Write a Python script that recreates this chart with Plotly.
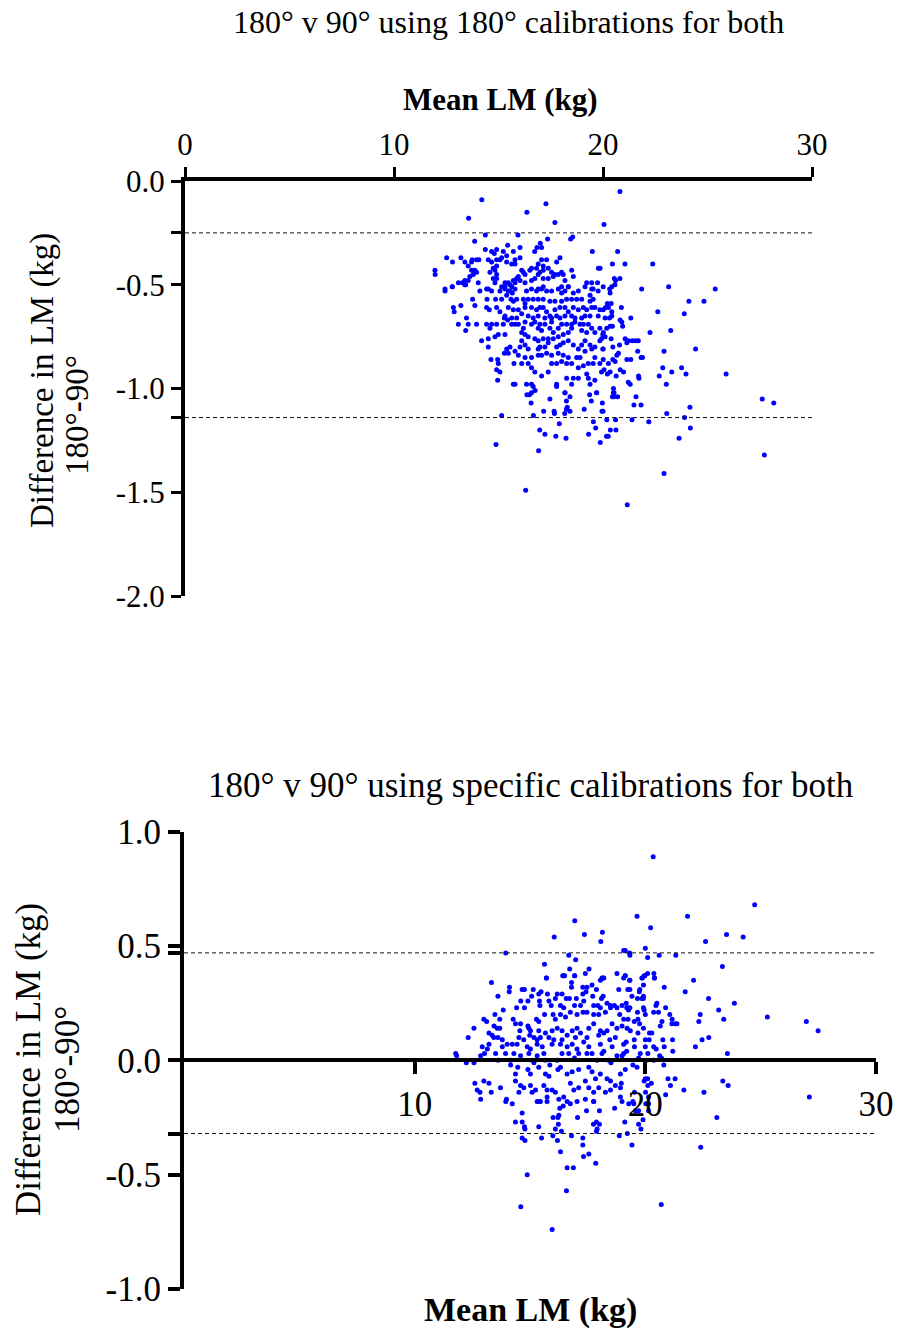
import plotly.graph_objects as go

# ---------------- data: top panel (180 deg calibrations for both) ----------------
top_upper = [(14.20,-0.09),(13.57,-0.18),(16.36,-0.15),(17.27,-0.11),(17.70,-0.20),(20.05,-0.21),
 (14.37,-0.26),(15.93,-0.26),(13.86,-0.29),(17.35,-0.28),(18.45,-0.28),(18.55,-0.27),(14.37,-0.33),
 (16.73,-0.34),(16.84,-0.32),(17.00,-0.30),(17.06,-0.32),(19.49,-0.34),(19.78,-0.42),(20.81,-0.05),
 (20.70,-0.34),(20.45,-0.40),(21.05,-0.40),(22.38,-0.40),(20.54,-0.47),(20.60,-0.48),(20.81,-0.47),
 (20.57,-0.50),(19.86,-0.42)]
top_mid_upper = [(12.52,-0.37),(12.80,-0.39),(13.20,-0.37),(13.39,-0.39),(13.55,-0.41),(13.71,-0.39),
 (13.74,-0.38),(13.95,-0.38),(14.06,-0.38),(13.71,-0.43),(13.87,-0.43),(13.95,-0.44),(13.63,-0.46),
 (13.79,-0.45),(13.55,-0.48),(13.39,-0.48),(13.08,-0.49),(13.27,-0.49),(13.39,-0.50),(12.79,-0.51),
 (12.44,-0.52),(11.96,-0.43),(11.97,-0.45),(14.03,-0.49),(14.51,-0.38),(14.67,-0.39),(14.91,-0.38),
 (14.91,-0.41),(14.75,-0.42),(14.83,-0.43),(14.59,-0.44),(14.91,-0.45),(14.75,-0.47),(14.91,-0.47),
 (14.83,-0.49),(14.51,-0.52),(15.07,-0.38),(15.15,-0.37),(15.23,-0.34),(14.91,-0.33),(14.80,-0.35),
 (14.67,-0.34),(15.44,-0.31),(16.03,-0.32),(15.71,-0.34),(15.39,-0.36),(15.39,-0.39),(15.79,-0.38),
 (15.63,-0.40),(15.79,-0.40),(16.03,-0.37),(16.19,-0.44),(16.11,-0.43),(16.27,-0.45),(15.87,-0.47),
 (15.71,-0.48),(15.79,-0.49),(15.95,-0.46),(16.03,-0.48),(15.47,-0.49),(15.31,-0.49),(15.55,-0.50),
 (15.63,-0.51),(15.31,-0.52),(15.15,-0.51),(15.47,-0.53),(16.27,-0.49),(16.58,-0.48),(16.74,-0.47),
 (16.50,-0.43),(16.58,-0.42),(16.82,-0.42),(16.90,-0.40),(16.98,-0.44),(17.14,-0.43),(17.14,-0.41),
 (17.38,-0.42),(17.30,-0.38),(17.06,-0.38),(16.90,-0.45),(17.14,-0.47),(16.90,-0.52),(17.14,-0.51),
 (17.38,-0.47),(17.62,-0.46),(17.54,-0.44),(17.70,-0.45),(17.86,-0.45),(17.78,-0.39),(17.94,-0.37),
 (18.02,-0.44),(18.10,-0.45),(18.18,-0.48),(18.02,-0.51),(18.34,-0.51),(18.58,-0.46),(18.50,-0.43),
 (19.46,-0.49),(19.53,-0.52),(19.22,-0.49),(19.74,-0.49),(20.01,-0.51)]
top_core_a = [(12.44,-0.53),(12.79,-0.51),(13.43,-0.50),(13.76,-0.57),(14.11,-0.53),(14.43,-0.52),
 (14.67,-0.53),(14.45,-0.57),(14.86,-0.57),(15.15,-0.57),(15.07,-0.53),(15.31,-0.51),(15.55,-0.53),
 (15.79,-0.52),(15.66,-0.54),(15.39,-0.55),(15.60,-0.57),(15.87,-0.57),(15.71,-0.58),(16.19,-0.57),
 (16.34,-0.53),(16.58,-0.52),(16.82,-0.53),(17.06,-0.52),(17.30,-0.53),(17.54,-0.53),(17.86,-0.52),
 (18.02,-0.54),(18.18,-0.53),(18.34,-0.51),(18.58,-0.54),(18.82,-0.53),(19.14,-0.51),(19.46,-0.52),
 (19.38,-0.55),(19.77,-0.53),(19.53,-0.57),(19.38,-0.58),(18.98,-0.57),(18.74,-0.57),(18.50,-0.57),
 (18.26,-0.57),(18.02,-0.58),(17.70,-0.58),(17.46,-0.58),(17.14,-0.57),(16.90,-0.57),(16.66,-0.57),
 (16.42,-0.57),(16.27,-0.59),
 (12.84,-0.61),(13.20,-0.60),(12.88,-0.63),(13.87,-0.60),(14.43,-0.61),(14.56,-0.62),(14.91,-0.61),
 (15.07,-0.63),(15.31,-0.65),(15.28,-0.66),(15.47,-0.61),(15.71,-0.62),(15.95,-0.62),(16.27,-0.61),
 (16.11,-0.64),(15.87,-0.66),(15.63,-0.66),(16.58,-0.61),(16.82,-0.62),(16.98,-0.61),(17.14,-0.61),
 (16.90,-0.65),(16.66,-0.66),(16.42,-0.65),(16.27,-0.68),(17.30,-0.63),(17.46,-0.65),(17.70,-0.62),
 (17.94,-0.61),(18.18,-0.61),(18.34,-0.63),(18.58,-0.61),(18.82,-0.62),(19.06,-0.61),(19.22,-0.62),
 (19.46,-0.61),(19.61,-0.61),(19.85,-0.62),(20.01,-0.62),(19.77,-0.65),(19.38,-0.65),(19.14,-0.65),
 (18.98,-0.66),(18.66,-0.66),(18.50,-0.65),(18.18,-0.65),(17.94,-0.66),(17.78,-0.65),(17.54,-0.66),
 (17.22,-0.66)]
top_core_b = [(13.47,-0.66),(13.08,-0.69),(13.55,-0.69),(13.43,-0.72),(13.95,-0.69),(14.43,-0.69),
 (14.67,-0.69),(14.59,-0.71),(14.91,-0.69),(15.23,-0.69),(15.44,-0.67),(15.63,-0.69),(15.95,-0.69),
 (16.19,-0.71),(16.11,-0.73),(15.79,-0.69),(16.58,-0.69),(16.74,-0.68),(16.98,-0.69),(16.90,-0.71),
 (17.06,-0.72),(17.22,-0.69),(17.54,-0.68),(17.46,-0.71),(17.62,-0.73),(17.86,-0.71),(18.02,-0.69),
 (18.26,-0.69),(18.50,-0.69),(18.66,-0.68),(18.90,-0.69),(19.06,-0.69),(19.30,-0.69),(19.46,-0.71),
 (19.61,-0.73),(19.85,-0.71),(19.22,-0.73),(18.98,-0.72),(18.50,-0.71),(18.34,-0.73),(18.10,-0.74),
 (17.86,-0.75),(17.62,-0.76),(17.38,-0.76),(17.14,-0.76),(16.90,-0.77),(16.74,-0.76),(16.42,-0.75),
 (16.27,-0.74),
 (14.19,-0.77),(14.51,-0.76),(14.83,-0.75),(14.99,-0.74),(15.31,-0.74),(16.11,-0.77),(16.27,-0.79),
 (16.03,-0.80),(16.42,-0.81),(16.98,-0.80),(16.90,-0.81),(17.22,-0.80),(17.38,-0.78),(17.78,-0.80),
 (17.94,-0.79),(18.10,-0.78),(18.34,-0.77),(18.58,-0.79),(18.82,-0.81),(18.98,-0.79),(19.14,-0.77),
 (19.38,-0.79),(19.61,-0.80),(19.85,-0.77),(19.93,-0.76)]
top_core_c = [(14.51,-0.80),(15.55,-0.80),(15.39,-0.81),(15.79,-0.82),(15.95,-0.84),(16.27,-0.85),
 (16.58,-0.85),(16.90,-0.84),(17.06,-0.84),(17.30,-0.83),(17.54,-0.84),(17.86,-0.83),(18.10,-0.84),
 (18.34,-0.85),(18.74,-0.85),(18.90,-0.85),(19.14,-0.82),(19.46,-0.81),(19.61,-0.85),(20.01,-0.81),
 (14.64,-0.86),(14.96,-0.86),(14.99,-0.88),(15.28,-0.83),(15.47,-0.83),(15.74,-0.88),(16.11,-0.88),
 (16.42,-0.88),(16.58,-0.90),(16.74,-0.92),(17.06,-0.94),(17.38,-0.92),(17.54,-0.88),(17.78,-0.88),
 (18.02,-0.87),(18.26,-0.88),(18.50,-0.88),(18.82,-0.90),(19.06,-0.89),(19.30,-0.88),(19.53,-0.88),
 (19.85,-0.88),(20.01,-0.86),
 (14.91,-0.91),(15.07,-0.92),(14.96,-0.96),(15.71,-0.98),(15.79,-0.98),(16.34,-0.98),(16.58,-0.98),
 (16.66,-0.99),(16.58,-1.02),(17.78,-0.98),(17.78,-0.99),(18.18,-1.02),(18.50,-0.98),(18.58,-0.95),
 (19.22,-0.93),(19.30,-0.95),(19.38,-0.98),(19.69,-1.02),(19.93,-0.92),(18.26,-0.95),(18.82,-0.95),
 (19.61,-0.96)]
top_right = [(20.32,-0.52),(20.42,-0.51),(20.34,-0.54),(20.21,-0.59),(20.39,-0.59),(20.12,-0.61),
 (20.26,-0.61),(20.42,-0.63),(20.42,-0.65),(20.10,-0.66),(20.31,-0.66),(20.90,-0.68),(20.94,-0.70),
 (20.82,-0.67),(21.33,-0.66),(20.18,-0.71),(20.02,-0.73),(19.99,-0.74),(20.34,-0.70),(20.45,-0.70),
 (21.06,-0.76),(21.22,-0.77),(21.41,-0.77),(21.57,-0.77),(21.69,-0.77),(21.14,-0.78),(20.39,-0.76),
 (20.10,-0.75),(19.99,-0.81),(20.47,-0.80),(20.79,-0.79),(21.66,-0.82),(20.66,-0.84),(20.74,-0.83),
 (21.82,-0.85),(21.89,-0.85),(21.14,-0.86),(21.33,-0.86),(20.47,-0.86),(20.58,-0.87),(20.26,-0.88),
 (20.05,-0.91),(20.21,-0.93),(20.34,-0.92),(20.82,-0.91),(20.98,-0.92),(20.63,-0.94),
 (21.85,-0.52),(23.14,-0.51),(25.37,-0.52),(24.11,-0.58),(24.83,-0.58),(22.62,-0.63),(23.89,-0.64),
 (20.88,-0.61),(22.25,-0.73),(23.24,-0.72),(24.43,-0.81),(22.92,-0.82),(22.86,-0.90),(23.76,-0.90),
 (23.29,-0.92),(23.97,-0.93),(25.89,-0.93),(22.69,-0.94),(23.03,-0.98),(21.70,-0.94),(21.72,-0.95),
 (21.21,-0.97),(21.30,-0.98),(20.50,-1.00),(20.53,-1.02)]
top_lower = [(15.15,-1.13),(14.88,-1.27),(16.30,-1.49),(16.92,-1.30),(16.97,-1.20),(17.22,-1.22),
 (17.74,-1.23),(18.23,-1.24),(17.91,-1.17),(16.67,-1.13),(16.56,-1.07),(17.16,-1.11),(17.66,-1.11),
 (17.68,-1.12),(17.46,-1.05),(18.17,-1.12),(18.29,-1.09),(18.25,-1.10),(18.42,-1.11),(18.25,-1.06),
 (18.42,-1.04),(18.18,-1.02),(16.36,-1.03),(16.48,-1.03),(16.75,-1.01),(19.10,-1.10),(19.31,-1.22),
 (19.65,-1.19),(19.54,-1.16),(19.87,-1.26),(20.17,-1.23),(20.25,-1.23),(20.35,-1.20),(20.62,-1.20),
 (20.18,-1.15),(20.60,-1.15),(19.95,-1.11),(20.00,-1.11),(19.97,-1.07),(19.44,-1.06),(19.36,-1.03),
 (19.70,-1.02),(20.50,-1.02),(20.52,-1.04),(20.70,-1.04),(20.45,-1.04),(21.16,-1.56),(21.39,-1.15),
 (21.48,-1.08),(21.58,-1.04),(21.82,-1.08),(22.19,-1.16),(23.05,-1.12),(22.92,-1.41),(23.64,-1.24),
 (23.90,-1.14),(24.18,-1.19),(24.16,-1.09),(27.62,-1.05),(28.17,-1.07),(27.72,-1.32)]

# ---------------- data: bottom panel (specific calibrations for both) ----------------
bot_upper = [(16.94,0.61),(16.05,0.54),(17.36,0.55),(18.14,0.56),(18.07,0.52),(13.95,0.47),
 (16.68,0.46),(16.98,0.44),(19.06,0.48),(19.32,0.47),(15.63,0.42),(16.72,0.40),(16.42,0.37),
 (16.50,0.37),(16.94,0.37),(17.40,0.38),(17.56,0.40),(15.71,0.36),(18.17,0.36),(18.05,0.35),
 (18.77,0.38),(19.13,0.37),
 (20.34,0.89),(19.64,0.63),(21.83,0.63),(20.23,0.58),(24.74,0.68),(23.52,0.55),(24.24,0.54),
 (22.61,0.52),(20.00,0.49),(19.33,0.46),(20.10,0.45),(20.60,0.46),(21.32,0.46),(23.34,0.41),
 (19.13,0.48),(19.13,0.37),(19.33,0.35),(19.87,0.36),(19.98,0.37),(20.10,0.38),(20.37,0.38),
 (20.39,0.36),(22.09,0.35)]
bot_right = [(20.82,0.32),(21.73,0.30),(22.74,0.27),(23.86,0.25),(23.18,0.22),(22.38,0.20),
 (22.32,0.17),(23.40,0.18),(25.29,0.19),(26.98,0.17),(27.49,0.13),(22.75,0.10),(22.46,0.09),
 (22.17,0.06),(23.56,0.03),(21.19,0.04),(21.18,0.09),(20.82,0.06),(20.80,-0.02),(23.36,-0.09),
 (23.59,-0.11),(21.29,-0.08),(20.98,-0.08),(21.09,-0.11),(21.67,-0.13),(22.54,-0.14),(20.88,-0.15),
 (27.11,-0.16),
 (19.32,0.35),(19.85,0.36),(19.95,0.37),(20.40,0.36),(19.33,0.31),(19.74,0.30),(19.76,0.31),
 (19.92,0.33),(19.42,0.28),(19.66,0.27),(19.85,0.27),(19.92,0.28),(19.91,0.27),(19.17,0.25),
 (20.50,0.25),(20.46,0.24),(20.88,0.23),(19.20,0.23),(19.27,0.22),(19.33,0.23),(19.66,0.21),
 (19.92,0.23),(19.95,0.22),(20.00,0.20),(20.36,0.21),(20.57,0.21),(21.06,0.20),(19.25,0.18),
 (19.52,0.17),(19.68,0.18),(19.75,0.16),(20.72,0.17),(20.65,0.15),(21.16,0.18),(21.15,0.16),
 (21.29,0.16),(21.37,0.16),(19.92,0.14),(19.35,0.13),(19.68,0.12),(20.18,0.12),(20.28,0.12),
 (19.17,0.08),(19.52,0.09),(20.00,0.09),(20.17,0.09),(20.76,0.09),(19.53,0.06),(20.00,0.06),
 (20.36,0.06),(20.47,0.05),(19.19,0.04),(19.78,0.03),(20.11,0.03),(20.62,0.02),(20.70,0.01),
 (19.71,0.01),(20.04,0.00),(20.36,0.00),(19.46,-0.02),(19.64,-0.03),(19.13,-0.04),(20.00,-0.08),
 (19.95,-0.09),(20.10,-0.08),(20.26,-0.10),(20.11,-0.11),(19.53,-0.14),(20.01,-0.14),(20.14,-0.16),
 (19.46,-0.18),(20.02,-0.19)]
bot_core_top = [(13.33,0.34),(14.11,0.32),(15.71,0.36),(16.46,0.37),(16.93,0.37),(18.12,0.36),
 (18.20,0.36),(19.06,0.36),(13.61,0.28),(14.10,0.30),(14.66,0.31),(14.76,0.31),(15.14,0.31),
 (15.38,0.29),(15.48,0.30),(15.76,0.29),(16.18,0.29),(16.39,0.29),(16.80,0.32),(16.80,0.34),
 (17.29,0.32),(17.47,0.32),(17.69,0.33),(17.88,0.31),(17.29,0.29),(17.43,0.30),(17.72,0.28),
 (18.10,0.27),(18.17,0.28),(18.85,0.31),(19.24,0.31),(14.60,0.26),(14.91,0.26),(15.07,0.28),
 (15.41,0.26),(15.82,0.26),(16.10,0.27),(16.57,0.27),(16.71,0.27),(17.01,0.27),(17.33,0.26),
 (17.76,0.24),(17.94,0.24),(18.05,0.23),(18.34,0.25),(18.49,0.24),(18.77,0.23),(18.99,0.24),
 (19.21,0.23),(14.42,0.23),(14.76,0.23),(13.84,0.22),(15.43,0.24),(15.92,0.24),(16.32,0.24),
 (16.46,0.23),(16.93,0.24),(17.19,0.24)]
bot_core_mid = [(13.00,0.18),(13.12,0.17),(12.57,0.14),(12.32,0.10),(13.48,0.20),(13.69,0.18),
 (13.44,0.15),(13.58,0.14),(13.69,0.14),(13.22,0.12),(13.36,0.11),(13.43,0.10),(13.61,0.10),
 (13.80,0.09),(14.27,0.18),(14.37,0.16),(14.59,0.16),(14.95,0.14),(15.28,0.18),(15.38,0.17),
 (15.63,0.20),(16.00,0.20),(16.10,0.18),(16.32,0.20),(16.54,0.19),(16.75,0.21),(17.04,0.20),
 (17.30,0.21),(17.47,0.21),(17.76,0.20),(17.98,0.20),(18.27,0.21),(18.49,0.23),(18.66,0.24),
 (18.89,0.20),(19.06,0.18),(14.56,0.13),(14.91,0.15),(15.02,0.13),(14.99,0.11),(15.38,0.13),
 (15.45,0.10),(15.67,0.12),(15.96,0.13),(16.18,0.14),(16.39,0.13),(16.61,0.11),(16.83,0.13),
 (17.04,0.14),(17.19,0.12),(17.55,0.14),(17.76,0.16),(18.05,0.13),(18.20,0.12),(18.34,0.13),
 (18.56,0.16),(18.77,0.14),(18.99,0.15),(19.21,0.14),(18.70,0.10),(17.98,0.11),(14.52,0.10),
 (14.73,0.09),(15.17,0.10),(15.31,0.09),(15.82,0.10),(16.03,0.09),(16.39,0.09),(16.97,0.10),
 (17.47,0.10),(18.46,0.09)]
bot_core_zero = [(12.93,0.06),(13.22,0.07),(13.15,0.05),(13.80,0.06),(14.01,0.07),(14.23,0.07),
 (14.44,0.07),(14.88,0.06),(15.02,0.05),(15.31,0.07),(15.53,0.06),(15.96,0.07),(16.32,0.07),
 (16.61,0.06),(16.83,0.07),(17.04,0.05),(17.33,0.08),(17.55,0.06),(18.05,0.07),(18.20,0.04),
 (18.56,0.06),(19.06,0.07),(11.78,0.03),(11.82,0.02),(12.24,-0.01),(12.57,-0.01),(12.86,0.02),
 (13.03,0.03),(13.51,0.03),(13.62,0.00),(13.94,0.03),(14.16,0.00),(14.30,0.03),(14.59,0.02),
 (14.95,0.03),(15.09,0.00),(15.31,0.02),(15.60,0.03),(15.67,0.00),(15.86,-0.02),(16.18,0.00),
 (16.39,0.03),(16.68,0.03),(16.93,0.01),(17.11,0.03),(17.47,0.03),(17.69,0.03),(17.91,0.00),
 (18.12,0.03),(18.41,0.00),(18.77,0.02),(18.99,0.02),(18.51,-0.01),(19.06,0.03)]
bot_core_low = [(14.16,-0.02),(14.47,-0.03),(14.37,-0.06),(14.91,-0.04),(15.02,-0.06),(15.17,-0.01),
 (15.38,-0.03),(15.67,-0.06),(15.82,-0.07),(16.21,-0.04),(16.32,-0.03),(16.61,-0.06),(16.83,-0.05),
 (17.11,-0.04),(17.55,-0.03),(17.69,-0.05),(18.05,-0.06),(17.84,-0.08),(18.34,-0.08),(18.49,-0.09),
 (18.92,-0.06),(18.96,-0.10),(12.61,-0.10),(13.00,-0.09),(13.22,-0.10),(12.71,-0.13),(12.83,-0.14),
 (13.32,-0.14),(13.72,-0.12),(13.98,-0.17),(14.37,-0.09),(14.59,-0.11),(14.73,-0.12),(14.52,-0.14),
 (15.02,-0.11),(15.24,-0.13),(15.09,-0.14),(15.60,-0.11),(15.74,-0.13),(15.96,-0.13),(16.10,-0.14),
 (15.74,-0.16),(16.25,-0.17),(16.46,-0.16),(16.75,-0.10),(16.90,-0.13),(17.11,-0.12),(17.40,-0.09),
 (17.55,-0.12),(17.76,-0.14),(17.98,-0.12),(18.27,-0.14),(18.49,-0.13),(18.70,-0.11),(18.92,-0.12),
 (15.31,-0.18),(15.45,-0.18),(16.61,-0.18),(17.40,-0.17),(17.76,-0.18),(18.92,-0.16)]
bot_lower = [(12.86,-0.17),(13.95,-0.18),(14.23,-0.19),(14.66,-0.23),(14.66,-0.27),(14.37,-0.27),
 (14.76,-0.29),(14.78,-0.30),(14.66,-0.34),(14.78,-0.35),(14.88,-0.50),(14.60,-0.64),(15.96,-0.74),
 (15.38,-0.29),(15.50,-0.34),(15.41,-0.18),(15.74,-0.18),(16.00,-0.25),(16.21,-0.25),(16.25,-0.24),
 (16.29,-0.21),(16.44,-0.20),(16.23,-0.28),(16.10,-0.30),(16.36,-0.31),(15.99,-0.33),(16.19,-0.35),
 (16.32,-0.40),(16.75,-0.19),(17.04,-0.18),(17.06,-0.25),(16.80,-0.33),(17.29,-0.34),(17.29,-0.37),
 (17.32,-0.42),(17.55,-0.41),(16.61,-0.47),(16.88,-0.47),(16.58,-0.57),(17.85,-0.45),(17.45,-0.22),
 (17.76,-0.18),(18.01,-0.22),(17.75,-0.28),(17.88,-0.27),(18.01,-0.28),(17.91,-0.30),(17.88,-0.31),
 (18.67,-0.21),(18.99,-0.18),(19.28,-0.19),(19.50,-0.19),(19.11,-0.27),(19.57,-0.22),(19.71,-0.22),
 (19.71,-0.28),(19.81,-0.30),(19.90,-0.26),(20.14,-0.22),(20.14,-0.19),(18.87,-0.33),(19.22,-0.32),
 (19.42,-0.37),(20.69,-0.63),(22.40,-0.38),(23.10,-0.25)]

top_limits = [-0.25, -1.14]
bot_limits = [0.47, -0.32]
x_ticks_top = [0, 10, 20, 30]
x_ticks_bot = [10, 20, 30]
y_ticks_top = [0.0, -0.5, -1.0, -1.5, -2.0]
y_ticks_bot = [1.0, 0.5, 0.0, -0.5, -1.0]

top_pts = top_upper + top_mid_upper + top_core_a + top_core_b + top_core_c + top_right + top_lower
bot_pts = bot_upper + bot_right + bot_core_top + bot_core_mid + bot_core_zero + bot_core_low + bot_lower
top_mean = [p[0] for p in top_pts]
top_diff = [p[1] for p in top_pts]
bot_mean = [p[0] for p in bot_pts]
bot_diff = [p[1] for p in bot_pts]

W, H = 897, 1333
FONT = "Liberation Serif"


def px(x):
    return x / W


def py(y):
    return 1 - y / H


fig = go.Figure()
fig.add_trace(go.Scatter(x=top_mean, y=top_diff, mode="markers", xaxis="x", yaxis="y",
                         marker=dict(color="#0000FF", size=5, line=dict(width=0)),
                         showlegend=False, cliponaxis=False))
fig.add_trace(go.Scatter(x=bot_mean, y=bot_diff, mode="markers", xaxis="x2", yaxis="y2",
                         marker=dict(color="#0000FF", size=5, line=dict(width=0)),
                         showlegend=False, cliponaxis=False))


def fmt(v):
    return f"{v:.1f}"


top_tickvals = y_ticks_top + top_limits
top_ticktext = [fmt(v) for v in y_ticks_top] + ["" for _ in top_limits]
bot_tickvals = y_ticks_bot + bot_limits
bot_ticktext = [fmt(v) for v in y_ticks_bot] + ["" for _ in bot_limits]

top_font = dict(family=FONT, size=31, color="black")
bot_font = dict(family=FONT, size=35, color="black")

common = dict(showline=True, linecolor="black", tickcolor="black", showgrid=False,
              zeroline=False, automargin=False, ticks="outside")

fig.update_layout(
    width=W, height=H, margin=dict(l=0, r=0, t=0, b=0, pad=0, autoexpand=False),
    paper_bgcolor="white", plot_bgcolor="white",
    xaxis=dict(domain=[px(185), px(812)], range=[0, 30], side="top", anchor="y",
               tickvals=x_ticks_top, ticklen=10, tickwidth=3, linewidth=4,
               tickfont=top_font, **common),
    yaxis=dict(domain=[py(596), py(181)], range=[-2, 0], anchor="x",
               tickvals=top_tickvals, ticktext=top_ticktext,
               ticklen=10, tickwidth=3, linewidth=4, tickfont=top_font, **common),
    xaxis2=dict(domain=[px(184), px(876)], range=[0, 30], anchor="free",
                position=(py(1289) + py(831.7)) / 2, side="bottom",
                tickvals=x_ticks_bot, ticklen=12, tickwidth=4, linewidth=4,
                tickfont=bot_font, **common),
    yaxis2=dict(domain=[py(1289), py(831.7)], range=[-1, 1], anchor="x2",
                tickvals=bot_tickvals, ticktext=bot_ticktext,
                ticklen=12, tickwidth=4, linewidth=4, tickfont=bot_font, **common),
)

shapes = []
for v in top_limits:
    shapes.append(dict(type="line", xref="x", yref="y", x0=0, x1=30, y0=v, y1=v,
                       line=dict(color="#111111", width=1, dash="4px,3px")))
for v in bot_limits:
    shapes.append(dict(type="line", xref="x2", yref="y2", x0=0, x1=30, y0=v, y1=v,
                       line=dict(color="#111111", width=1, dash="4px,3px")))
fig.update_layout(shapes=shapes)

ann = [
    dict(text="180° v 90° using 180° calibrations for both", x=px(508), y=py(22),
         font=dict(family=FONT, size=32, color="black")),
    dict(text="<b>Mean LM (kg)</b>", x=px(500), y=py(100),
         font=dict(family=FONT, size=31, color="black")),
    dict(text="Difference in LM (kg)", x=px(42), y=py(381), textangle=-90,
         font=dict(family=FONT, size=33, color="black")),
    dict(text="180°-90°", x=px(77), y=py(415), textangle=-90,
         font=dict(family=FONT, size=33, color="black")),
    dict(text="180° v 90° using specific calibrations for both", x=px(531), y=py(785),
         font=dict(family=FONT, size=35, color="black")),
    dict(text="<b>Mean LM (kg)</b>", x=px(530), y=py(1310),
         font=dict(family=FONT, size=34, color="black")),
    dict(text="Difference in LM (kg)", x=px(28), y=py(1060), textangle=-90,
         font=dict(family=FONT, size=35, color="black")),
    dict(text="180°-90°", x=px(67), y=py(1070), textangle=-90,
         font=dict(family=FONT, size=35, color="black")),
]
for a in ann:
    a.update(xref="paper", yref="paper", showarrow=False, xanchor="center", yanchor="middle")
fig.update_layout(annotations=ann)

fig.write_html("out.html")
